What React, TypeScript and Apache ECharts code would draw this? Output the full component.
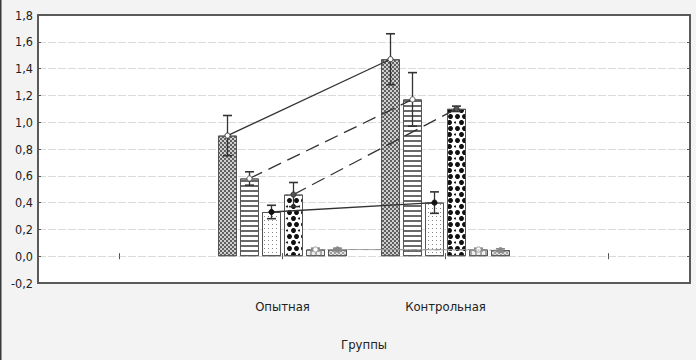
import React, { useEffect, useRef } from 'react';
import * as echarts from 'echarts';

const categories = ['', 'Опытная', 'Контрольная', ''];
const groupIndexes = [1, 2];
const yMin = -0.2;
const yMax = 1.8;
const yStep = 0.2;
const axisTitle = 'Группы';

const series1Means = [0.9, 1.47];
const series1Errors = [0.15, 0.19];
const series2Means = [0.58, 1.17];
const series2Errors = [0.05, 0.2];
const series3Means = [0.33, 0.4];
const series3Errors = [0.05, 0.08];
const series4Means = [0.46, 1.1];
const series4Errors = [0.09, 0.02];
const series5Means = [0.05, 0.05];
const series5Errors = [0.01, 0.01];
const series6Means = [0.05, 0.045];
const series6Errors = [0.01, 0.01];

const allMeans = [series1Means, series2Means, series3Means, series4Means, series5Means, series6Means];
const allErrors = [series1Errors, series2Errors, series3Errors, series4Errors, series5Errors, series6Errors];

const FONT = '"Liberation Sans Narrow", "DejaVu Sans Condensed", "Arial Narrow", sans-serif';
const BAR_W = 19;
const BAR_STEP = 22;

const decals: any[] = [
  { symbol: 'rect', symbolSize: 1, dashArrayX: [[1.5, 1.5], [0, 1.5, 1.5, 0]], dashArrayY: [1.5, 0], color: '#5f5f5f', backgroundColor: '#cfcfcf' },
  { symbol: 'rect', symbolSize: 1, dashArrayX: [1, 0], dashArrayY: [1.6, 2.4], color: '#6a6a6a', backgroundColor: '#ffffff' },
  { symbol: 'rect', symbolSize: 1, dashArrayX: [1, 2.2], dashArrayY: [1, 2.2], color: '#8a8a8a', backgroundColor: '#ffffff' },
  { symbol: 'circle', symbolSize: 1, dashArrayX: [[4.2, 1.4], [0, 2.8, 4.2, 1.4, 1.4, 0]], dashArrayY: [4.2, 1.0], color: '#111111', backgroundColor: '#ffffff' },
  { symbol: 'rect', symbolSize: 1, dashArrayX: [1.2, 2.3], dashArrayY: [1, 0], color: '#a8a8a8', backgroundColor: '#eeeeee' },
  { symbol: 'rect', symbolSize: 1, dashArrayX: [[1.2, 1.2], [0, 1.2, 1.2, 0]], dashArrayY: [1.2, 0], color: '#a0a0a0', backgroundColor: '#e2e2e2' },
];

const lineStyles: any[] = [
  { stroke: '#333', lineWidth: 1.3, lineDash: null },
  { stroke: '#333', lineWidth: 1.3, lineDash: [14, 7] },
  { stroke: '#333', lineWidth: 1.3, lineDash: null },
  { stroke: '#333', lineWidth: 1.3, lineDash: [14, 7] },
  { stroke: '#999', lineWidth: 1, lineDash: [6, 2, 2, 2] },
  { stroke: '#999', lineWidth: 1, lineDash: [6, 2, 2, 2] },
];

const markerStyles: any[] = [
  { fill: '#fff', stroke: '#333' },
  { fill: '#fff', stroke: '#555' },
  { fill: '#111', stroke: '#111' },
  { fill: '#555', stroke: '#333' },
  { fill: '#fff', stroke: '#999' },
  { fill: '#888', stroke: '#888' },
];

function makeRenderItem(k: number) {
  return (params: any, api: any) => {
    const off = (k - 2.5) * BAR_STEP;
    const x = api.value(0);
    const v = api.value(1);
    const e = api.value(2);
    const c = api.coord([x, v]);
    const t = api.coord([x, v + e]);
    const b = api.coord([x, v - e]);
    const cx = c[0] + off;
    const children: any[] = [];
    if (params.dataIndexInside === 0) {
      const x2 = api.value(0, 1);
      const v2 = api.value(1, 1);
      const c2 = api.coord([x2, v2]);
      children.push({
        type: 'line',
        shape: { x1: cx, y1: c[1], x2: c2[0] + off, y2: c2[1] },
        style: { stroke: lineStyles[k].stroke, lineWidth: lineStyles[k].lineWidth, lineDash: lineStyles[k].lineDash },
      });
    }
    const ec = k >= 4 ? '#888' : '#333';
    children.push({ type: 'line', shape: { x1: cx, y1: t[1], x2: cx, y2: b[1] }, style: { stroke: ec, lineWidth: 1.3 } });
    children.push({ type: 'line', shape: { x1: cx - 4.5, y1: t[1], x2: cx + 4.5, y2: t[1] }, style: { stroke: ec, lineWidth: 1.6 } });
    children.push({ type: 'line', shape: { x1: cx - 4.5, y1: b[1], x2: cx + 4.5, y2: b[1] }, style: { stroke: ec, lineWidth: 1.6 } });
    children.push({ type: 'circle', shape: { cx, cy: c[1], r: 2.6 }, style: { fill: markerStyles[k].fill, stroke: markerStyles[k].stroke, lineWidth: 1 } });
    return { type: 'group', children };
  };
}

export default function App() {
  const ref = useRef<HTMLDivElement>(null);
  useEffect(() => {
    if (!ref.current) return;
    const chart = echarts.init(ref.current, undefined, { renderer: 'svg' });

    const barSeries = allMeans.map((means, k) => {
      const data: any[] = categories.map(() => '-');
      groupIndexes.forEach((gi, j) => { data[gi] = means[j]; });
      return {
        type: 'bar',
        name: 'S' + (k + 1),
        data,
        barWidth: BAR_W,
        barGap: ((BAR_STEP - BAR_W) / BAR_W * 100).toFixed(2) + '%',
        itemStyle: { color: decals[k].backgroundColor, borderColor: '#555', borderWidth: 1, decal: decals[k] },
        z: 2,
      };
    });

    const errSeries = allMeans.map((means, k) => ({
      type: 'custom',
      name: 'E' + (k + 1),
      renderItem: makeRenderItem(k),
      data: groupIndexes.map((gi, j) => [gi, means[j], allErrors[k][j]]),
      encode: { x: 0, y: 1 },
      z: 5,
      silent: true,
    }));

    const yLabel = (v: number) => v.toFixed(1).replace('.', ',');

    chart.setOption({
      animation: false,
      backgroundColor: '#f3f3f3',
      grid: { left: 38, right: 6, top: 15, bottom: 77, show: true, backgroundColor: '#ffffff', borderColor: '#5a5a5a', borderWidth: 2 },
      xAxis: [
        {
          type: 'category',
          data: categories,
          position: 'bottom',
          axisLine: { show: false },
          axisTick: { show: true, inside: true, alignWithLabel: true, length: 3, lineStyle: { color: '#555' } },
          axisLabel: { color: '#222', fontFamily: FONT, fontSize: 13, margin: 17, interval: 0 },
          splitLine: { show: false },
          name: axisTitle,
          nameLocation: 'middle',
          nameGap: 55,
          nameTextStyle: { color: '#222', fontFamily: FONT, fontSize: 13 },
        },
        {
          type: 'category',
          data: categories,
          position: 'top',
          axisLine: { show: false },
          axisTick: { show: true, inside: true, alignWithLabel: true, length: 3, lineStyle: { color: '#555' } },
          axisLabel: { show: false },
        },
      ],
      yAxis: [
        {
          type: 'value',
          min: yMin,
          max: yMax,
          interval: yStep,
          position: 'left',
          axisLine: { show: false },
          axisTick: { show: true, inside: true, length: 3, lineStyle: { color: '#555' } },
          axisLabel: { color: '#222', fontFamily: FONT, fontSize: 12.5, margin: 5, formatter: yLabel },
          splitLine: { show: true, showMinLine: false, showMaxLine: false, lineStyle: { color: '#dadada', type: [8, 2], width: 1 } },
        },
        {
          type: 'value',
          min: yMin,
          max: yMax,
          interval: yStep,
          position: 'right',
          axisLine: { show: false },
          axisTick: { show: true, inside: true, length: 3, lineStyle: { color: '#555' } },
          axisLabel: { show: false },
          splitLine: { show: false },
        },
      ],
      graphic: [
        { type: 'rect', shape: { x: 0, y: 0, width: 1.5, height: 360 }, style: { fill: '#3a3a3a' }, z: 10 },
      ],
      series: [...barSeries, ...errSeries],
    });
    return () => chart.dispose();
  }, []);
  return <div ref={ref} style={{ position: 'fixed', left: 0, top: 0, width: 696, height: 360 }} />;
}
